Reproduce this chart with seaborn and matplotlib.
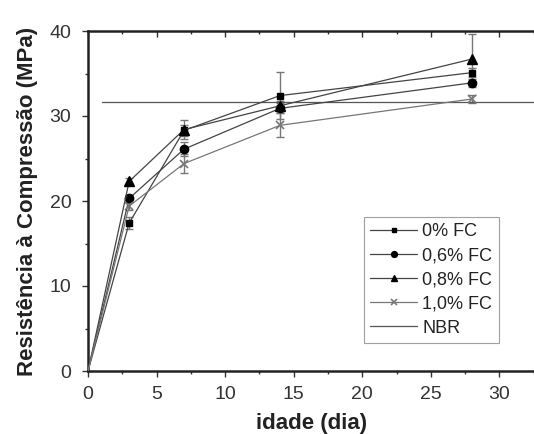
import numpy as np
import pandas as pd
import matplotlib
matplotlib.use("Agg")
import matplotlib.pyplot as plt
from matplotlib.ticker import MultipleLocator
import seaborn as sns

# data
dias = [0, 3, 7, 14, 28]
fc_0 = [0, 17.4, 28.3, 32.4, 35.1]
fc_06 = [0, 20.3, 26.1, 30.9, 33.9]
fc_08 = [0, 22.3, 28.4, 31.2, 36.7]
fc_10 = [0, 19.4, 24.4, 28.9, 32.0]
err_0 = [0, 0.7, 0.6, 2.8, 0.5]
err_06 = [0, 0.4, 0.8, 0.6, 0.5]
err_08 = [0, 0.4, 1.1, 0.6, 2.9]
err_10 = [0, 0.5, 1.1, 1.4, 0.5]
nbr_x = [1, 32.6]
nbr_y = [31.6, 31.6]

series_names = ["0% FC", "0,6% FC", "0,8% FC", "1,0% FC"]
series_vals = [fc_0, fc_06, fc_08, fc_10]
series_err = [err_0, err_06, err_08, err_10]

df = pd.concat([
    pd.DataFrame({"idade": dias, "res": v, "err": e, "serie": n})
    for n, v, e in zip(series_names, series_vals, series_err)
])

sns.set_style("white")
plt.rcParams["font.family"] = ["Liberation Sans", "DejaVu Sans"]

fig = plt.figure(figsize=(5.34, 4.34), dpi=100)
ax = fig.add_axes([88 / 534, 63 / 434, 447 / 534, 340 / 434])

markers = {"0% FC": "s", "0,6% FC": "o", "0,8% FC": "^", "1,0% FC": "x"}
line_cols = {"0% FC": "#444444", "0,6% FC": "#444444", "0,8% FC": "#444444", "1,0% FC": "#777777"}
msizes = {"0% FC": 4.5, "0,6% FC": 6, "0,8% FC": 6.5, "1,0% FC": 6}

for n in series_names:
    sub = df[df["serie"] == n]
    ax.errorbar(sub["idade"][1:], sub["res"][1:], yerr=sub["err"][1:], fmt="none",
                ecolor="#777777", elinewidth=1, capsize=3, capthick=1, zorder=2)
    sns.lineplot(data=sub, x="idade", y="res", ax=ax, color=line_cols[n],
                 lw=0.9, marker=markers[n], markersize=msizes[n], markevery=[1, 2, 3, 4],
                 markerfacecolor="black", markeredgecolor="black" if n != "1,0% FC" else "#777777",
                 markeredgewidth=1 if n != "1,0% FC" else 1.2,
                 label=n, zorder=3)

sns.lineplot(x=nbr_x, y=nbr_y, ax=ax, color="#555555", lw=0.9, label="NBR")

ax.set_xlim(0, 32.6)
ax.set_ylim(0, 40)
ax.xaxis.set_major_locator(MultipleLocator(5))
ax.xaxis.set_minor_locator(MultipleLocator(2.5))
ax.yaxis.set_major_locator(MultipleLocator(10))
ax.yaxis.set_minor_locator(MultipleLocator(5))

ax.tick_params(axis="both", which="major", direction="out", length=4, width=1,
               labelsize=14, labelcolor="#333333", color="#333333",
               bottom=True, left=True)
ax.tick_params(axis="x", which="major", pad=7)
ax.tick_params(axis="y", which="major", pad=8)
ax.tick_params(axis="both", which="minor", direction="out", length=2.5, width=1,
               color="#333333", bottom=True, left=True)
secx = ax.secondary_xaxis("top")
secx.xaxis.set_major_locator(MultipleLocator(5))
secx.xaxis.set_minor_locator(MultipleLocator(2.5))
secx.tick_params(which="major", direction="in", length=4, width=1, labeltop=False, color="#333333")
secx.tick_params(which="minor", direction="in", length=2.5, width=1, color="#333333")
secx.spines["top"].set_visible(False)
ax.tick_params(axis="x", which="both", top=False)

for s in ["left", "bottom", "top"]:
    ax.spines[s].set_color("#222222")
    ax.spines[s].set_linewidth(1.8)
ax.spines["right"].set_visible(False)

ax.set_xlabel("idade (dia)", fontsize=16, fontweight="bold", color="#222222", labelpad=7)
ax.set_ylabel("Resistência à Compressão (MPa)", fontsize=16, fontweight="bold",
              color="#222222", labelpad=8)

leg = ax.legend(loc="lower left", bbox_to_anchor=(0.617, 0.082), fontsize=13,
                frameon=True, fancybox=False, edgecolor="#888888",
                handlelength=2.6, handletextpad=0.3, borderpad=0.35,
                labelspacing=0.4, borderaxespad=0, markerscale=0.7)
leg.get_frame().set_linewidth(0.8)
for t in leg.get_texts():
    t.set_color("#222222")

fig.savefig("out.png", dpi=100)
